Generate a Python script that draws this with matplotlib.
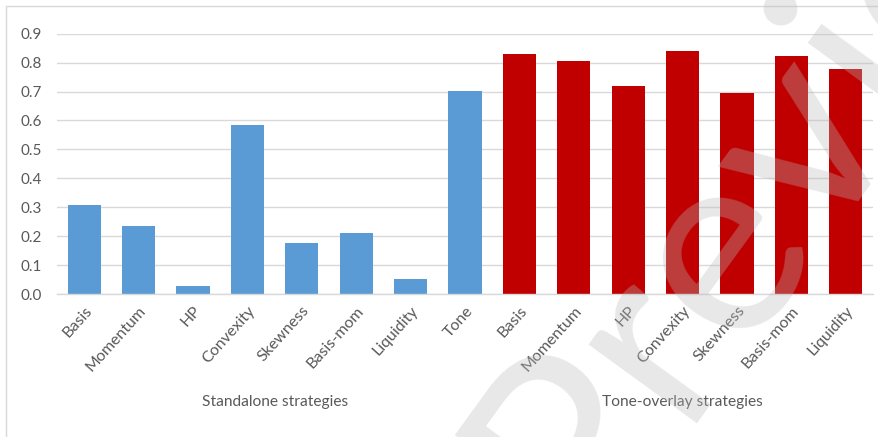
import matplotlib
matplotlib.use("Agg")
import numpy as np
import matplotlib.pyplot as plt
from matplotlib.patches import Rectangle

plt.rcParams['font.family'] = ['Lato', 'DejaVu Sans']

# strategy names for the two groups
standalone = ['Basis', 'Momentum', 'HP', 'Convexity', 'Skewness',
              'Basis-mom', 'Liquidity', 'Tone']
overlay = ['Basis', 'Momentum', 'HP', 'Convexity', 'Skewness',
           'Basis-mom', 'Liquidity']

# values
standalone_vals = [0.307, 0.236, 0.027, 0.584, 0.175, 0.210, 0.051, 0.701]
overlay_vals = [0.829, 0.805, 0.720, 0.840, 0.695, 0.823, 0.779]

group_names = ['Standalone strategies', 'Tone-overlay strategies']

blue = '#5B9BD5'
red = '#C00000'
grey_txt = '#595959'
grid_col = '#D9D9D9'

fig = plt.figure(figsize=(8.79, 4.37), dpi=100)
ax = fig.add_axes([57 / 879, 1 - 294 / 437, (873 - 57) / 879, (294 - 33.7) / 437])

labels = standalone + overlay
vals = standalone_vals + overlay_vals
colors = [blue] * len(standalone) + [red] * len(overlay)
x = np.arange(len(labels))

ax.bar(x, vals, width=0.61, color=colors, zorder=2)
ax.set_xlim(-0.5, len(labels) - 0.5)
ax.set_ylim(0, 0.9)
ax.set_yticks(np.arange(0, 0.91, 0.1))
ax.set_yticklabels(['%.1f' % t for t in np.arange(0, 0.91, 0.1)])
ax.yaxis.grid(True, color=grid_col, linewidth=1.0, zorder=0)
ax.tick_params(axis='y', length=0, labelsize=11, labelcolor=grey_txt, pad=11)
ax.tick_params(axis='x', length=0)
for s in ['top', 'right', 'left']:
    ax.spines[s].set_visible(False)
ax.spines['bottom'].set_color(grid_col)
ax.spines['bottom'].set_linewidth(1.0)

ax.set_xticks(x)
ax.set_xticklabels(labels, rotation=48, ha='right', va='top',
                   rotation_mode='anchor', fontsize=11.5, color=grey_txt)
ax.tick_params(axis='x', pad=7)

# group labels under the category labels
n1 = len(standalone)
centers = [(n1 - 1) / 2, n1 + (len(overlay) - 1) / 2]
for c, name in zip(centers, group_names):
    ax.text(c, -0.415, name, ha='center', va='center', fontsize=11.2,
            color=grey_txt, transform=ax.get_xaxis_transform(), clip_on=False)

# chart area border
fig.patches.append(Rectangle((6.5 / 879, -0.1), 1.2, 1.1 - 6 / 437,
                             transform=fig.transFigure, fill=False,
                             edgecolor=grid_col, linewidth=1.0))

# watermark
fig.text(800 / 879, 1 - 122 / 437, 'Preview', rotation=54, fontsize=190,
         color=(185 / 255, 185 / 255, 185 / 255), alpha=0.33,
         ha='center', va='center', rotation_mode='anchor', zorder=10)

fig.savefig('out.png', dpi=100)
